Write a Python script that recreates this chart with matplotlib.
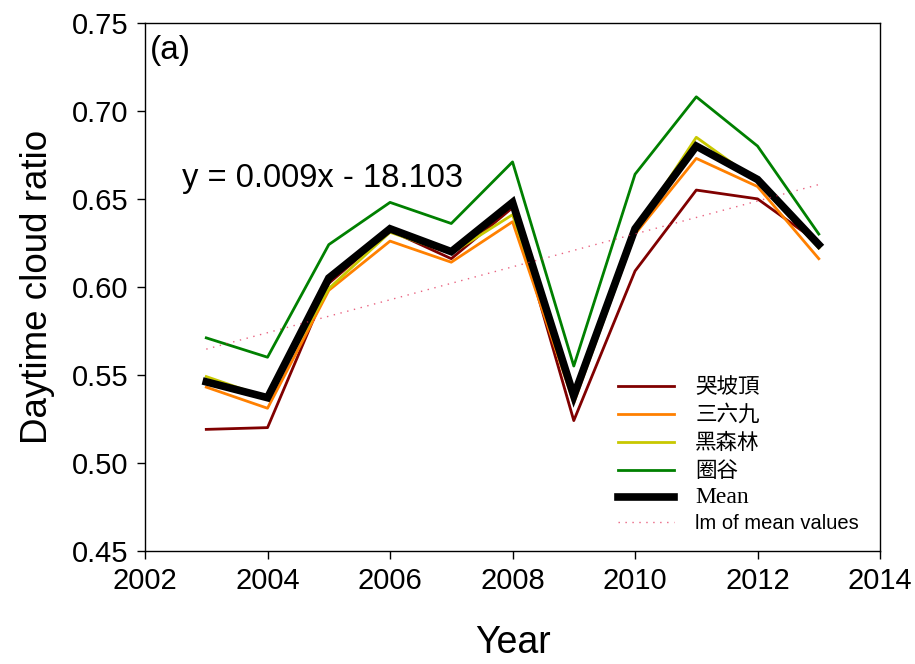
import numpy as np
import matplotlib
matplotlib.use("Agg")
import matplotlib.pyplot as plt

# Annual daytime cloud ratio per station, 2003-2013
years = np.arange(2003, 2014)
station_names = ["哭坡頂", "三六九", "黑森林", "圈谷"]
station_colors = ["#800000", "#FF8000", "#C8C800", "#008000"]
kupoding = [0.519, 0.520, 0.602, 0.632, 0.616, 0.645, 0.524, 0.609, 0.655, 0.650, 0.625]
sanliujiu = [0.543, 0.531, 0.598, 0.626, 0.614, 0.637, 0.534, 0.630, 0.673, 0.657, 0.616]
heisenlin = [0.549, 0.537, 0.599, 0.631, 0.619, 0.641, 0.540, 0.632, 0.685, 0.660, 0.622]
quangu = [0.571, 0.560, 0.624, 0.648, 0.636, 0.671, 0.555, 0.664, 0.708, 0.680, 0.630]
mean_vals = [0.546, 0.537, 0.605, 0.633, 0.620, 0.648, 0.538, 0.633, 0.680, 0.661, 0.624]
eq_label = "y = 0.009x - 18.103"

plt.rcParams["font.family"] = ["Liberation Sans", "DejaVu Sans"]

fig = plt.figure(figsize=(9.15, 6.64), dpi=100)
ax = fig.add_axes([0.1585, 0.1705, 0.8033, 0.7950])

series = [kupoding, sanliujiu, heisenlin, quangu]
for name, color, vals in zip(station_names, station_colors, series):
    ax.plot(years, vals, color=color, lw=2.0, label=name)
ax.plot(years, mean_vals, color="black", lw=5.5, label="Mean", solid_joinstyle="miter")

# linear fit of the mean series
slope, intercept = np.polyfit(years, mean_vals, 1)
ax.plot(years, slope * years + intercept, color="#e0204a", lw=1.0, alpha=0.7,
        linestyle=(0, (1, 4)), label="lm of mean values")

ax.set_xlim(2002, 2014)
ax.set_ylim(0.45, 0.75)
ax.set_xticks(np.arange(2002, 2015, 2))
ax.set_yticks(np.arange(0.45, 0.751, 0.05))
ax.yaxis.set_major_formatter(matplotlib.ticker.FormatStrFormatter("%.2f"))
ax.tick_params(direction="out", length=6, width=1, labelsize=21, pad=6)
ax.tick_params(top=False, right=False)
for sp in ax.spines.values():
    sp.set_linewidth(1.0)

ax.set_xlabel("Year", fontsize=27, labelpad=21)
ax.set_ylabel("Daytime cloud ratio", fontsize=26.5, labelpad=12)

ax.text(0.006, 0.978, "(a)", transform=ax.transAxes, fontsize=24, va="top", ha="left")
ax.text(0.05, 0.705, eq_label, transform=ax.transAxes, fontsize=23.5, va="center", ha="left")

leg = ax.legend(loc="lower right", bbox_to_anchor=(0.995, 0.0), frameon=False,
                fontsize=14, handlelength=2.85, handletextpad=1.1, labelspacing=0.3)
for i, txt in enumerate(leg.get_texts()):
    if i < 4:
        txt.set_fontfamily(["Noto Sans CJK TC", "DejaVu Sans"])
        txt.set_fontsize(15.5)
    elif i == 4:
        txt.set_fontfamily(["Liberation Serif", "DejaVu Serif"])
        txt.set_fontsize(17)
    else:
        txt.set_fontfamily(["Liberation Sans", "DejaVu Sans"])
        txt.set_fontsize(14.5)

fig.savefig("out.png", dpi=100)
